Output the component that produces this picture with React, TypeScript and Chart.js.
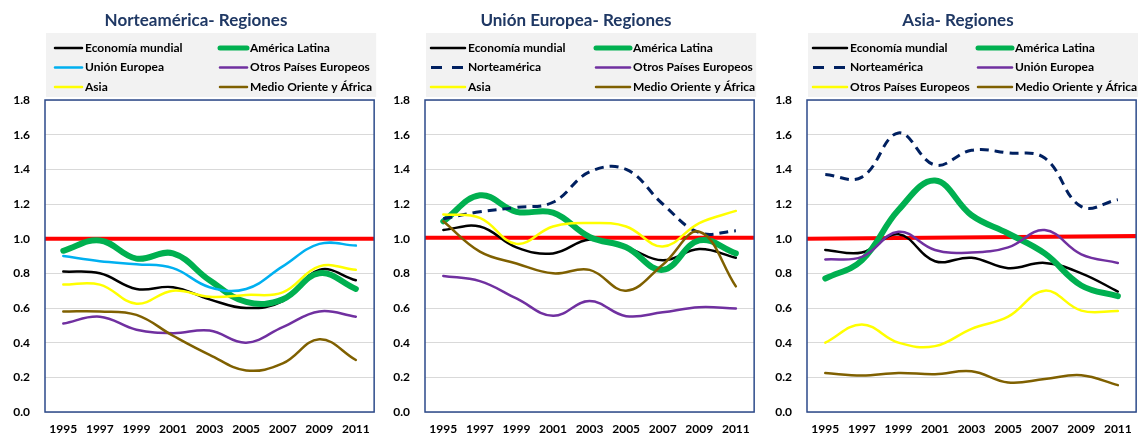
import React, { useEffect, useRef } from 'react';
import { Chart, registerables } from 'chart.js';

Chart.register(...registerables);

// ---------- Data ----------
const YEARS = ['1995', '1997', '1999', '2001', '2003', '2005', '2007', '2009', '2011'];
const Y_MIN = 0;
const Y_MAX = 1.8;
const Y_STEP = 0.2;

// Panel 1: Norteamérica - Regiones
const naEconomiaMundial = [0.81, 0.80, 0.71, 0.72, 0.65, 0.60, 0.64, 0.82, 0.76];
const naAmericaLatina = [0.93, 0.99, 0.885, 0.915, 0.76, 0.635, 0.65, 0.80, 0.71];
const naUnionEuropea = [0.90, 0.87, 0.853, 0.83, 0.72, 0.71, 0.84, 0.97, 0.96];
const naOtrosEuropeos = [0.51, 0.55, 0.475, 0.455, 0.47, 0.40, 0.49, 0.58, 0.55];
const naAsia = [0.735, 0.735, 0.625, 0.70, 0.665, 0.675, 0.69, 0.84, 0.82];
const naMedioOriente = [0.58, 0.58, 0.56, 0.44, 0.33, 0.24, 0.28, 0.42, 0.30];
const naReference = [1.0, 1.0];

// Panel 2: Unión Europea - Regiones
const ueEconomiaMundial = [1.05, 1.07, 0.95, 0.915, 0.995, 0.95, 0.875, 0.94, 0.89];
const ueAmericaLatina = [1.10, 1.25, 1.155, 1.15, 1.01, 0.95, 0.82, 0.99, 0.915];
const ueNorteamerica = [1.115, 1.155, 1.18, 1.21, 1.385, 1.40, 1.20, 1.035, 1.045];
const ueOtrosEuropeos = [0.785, 0.755, 0.655, 0.555, 0.64, 0.553, 0.575, 0.605, 0.597];
const ueAsia = [1.14, 1.12, 0.97, 1.07, 1.09, 1.07, 0.955, 1.09, 1.16];
const ueMedioOriente = [1.10, 0.925, 0.857, 0.80, 0.82, 0.70, 0.85, 1.04, 0.725];
const ueReference = [1.005, 1.005];

// Panel 3: Asia - Regiones
const asEconomiaMundial = [0.935, 0.92, 1.025, 0.87, 0.89, 0.83, 0.86, 0.80, 0.695];
const asAmericaLatina = [0.77, 0.875, 1.165, 1.335, 1.135, 1.03, 0.915, 0.73, 0.668];
const asNorteamerica = [1.37, 1.355, 1.61, 1.425, 1.51, 1.495, 1.465, 1.185, 1.225];
const asUnionEuropea = [0.88, 0.895, 1.04, 0.935, 0.92, 0.95, 1.05, 0.91, 0.86];
const asOtrosEuropeos = [0.40, 0.505, 0.40, 0.38, 0.48, 0.55, 0.70, 0.585, 0.583];
const asMedioOriente = [0.225, 0.21, 0.225, 0.218, 0.235, 0.17, 0.19, 0.212, 0.155];
const asReference = [1.0, 1.015];

// ---------- Styles ----------
const FONT = 'Lato';
const STYLE = {
  black: { color: '#000000', width: 2.5 },
  green: { color: '#00b050', width: 6 },
  cyan: { color: '#00b0f0', width: 2.5 },
  navyDash: { color: '#002060', width: 3, dash: [9, 6], legendDash: [11, 10] },
  purple: { color: '#7030a0', width: 2.5 },
  yellow: { color: '#ffff00', width: 2.5 },
  brown: { color: '#7f6000', width: 2.5 },
};

type Series = { name: string; data: number[]; style: any };
type PanelCfg = {
  title: string;
  series: Series[];
  reference: number[];
  legendCols: number[];
  sampleLen: number;
};

const PANELS: PanelCfg[] = [
  {
    title: 'Norteamérica- Regiones',
    series: [
      { name: 'Economía mundial', data: naEconomiaMundial, style: STYLE.black },
      { name: 'América Latina', data: naAmericaLatina, style: STYLE.green },
      { name: 'Unión Europea', data: naUnionEuropea, style: STYLE.cyan },
      { name: 'Otros Países Europeos', data: naOtrosEuropeos, style: STYLE.purple },
      { name: 'Asia', data: naAsia, style: STYLE.yellow },
      { name: 'Medio Oriente y África', data: naMedioOriente, style: STYLE.brown },
    ],
    reference: naReference,
    legendCols: [10, 175],
    sampleLen: 27,
  },
  {
    title: 'Unión Europea- Regiones',
    series: [
      { name: 'Economía mundial', data: ueEconomiaMundial, style: STYLE.black },
      { name: 'América Latina', data: ueAmericaLatina, style: STYLE.green },
      { name: 'Norteamérica', data: ueNorteamerica, style: STYLE.navyDash },
      { name: 'Otros Países Europeos', data: ueOtrosEuropeos, style: STYLE.purple },
      { name: 'Asia', data: ueAsia, style: STYLE.yellow },
      { name: 'Medio Oriente y África', data: ueMedioOriente, style: STYLE.brown },
    ],
    reference: ueReference,
    legendCols: [6, 171],
    sampleLen: 34,
  },
  {
    title: 'Asia- Regiones',
    series: [
      { name: 'Economía mundial', data: asEconomiaMundial, style: STYLE.black },
      { name: 'América Latina', data: asAmericaLatina, style: STYLE.green },
      { name: 'Norteamérica', data: asNorteamerica, style: STYLE.navyDash },
      { name: 'Unión Europea', data: asUnionEuropea, style: STYLE.purple },
      { name: 'Otros Países Europeos', data: asOtrosEuropeos, style: STYLE.yellow },
      { name: 'Medio Oriente y África', data: asMedioOriente, style: STYLE.brown },
    ],
    reference: asReference,
    legendCols: [6, 171],
    sampleLen: 34,
  },
];

const PANEL_LEFTS = [0, 380, 762];
const CANVAS_W = 380;
const CANVAS_H = 450;

function makeDecor(cfg: PanelCfg) {
  return {
    id: 'panelDecor',
    beforeDatasetsDraw(chart: any) {
      const { ctx, chartArea: a, scales } = chart;
      const y = scales.y;
      ctx.save();
      ctx.strokeStyle = '#ff0000';
      ctx.lineWidth = 4;
      ctx.beginPath();
      ctx.moveTo(a.left, y.getPixelForValue(cfg.reference[0]));
      ctx.lineTo(a.right, y.getPixelForValue(cfg.reference[1]));
      ctx.stroke();
      ctx.restore();
    },
    afterDatasetsDraw(chart: any) {
      const { ctx, chartArea: a } = chart;
      ctx.save();
      ctx.strokeStyle = '#2c4a8a';
      ctx.lineWidth = 1.5;
      ctx.strokeRect(a.left, a.top, a.right - a.left, a.bottom - a.top);
      ctx.restore();
    },
    afterDraw(chart: any) {
      const { ctx, chartArea: a } = chart;
      ctx.save();
      // title
      ctx.font = `bold 17px ${FONT}`;
      ctx.fillStyle = '#1f3864';
      ctx.textAlign = 'center';
      ctx.textBaseline = 'middle';
      ctx.fillText(cfg.title, 196, 21);
      // legend box
      ctx.fillStyle = '#f2f2f2';
      ctx.fillRect(a.left + 1, 33, a.right - a.left + 1, 64);
      ctx.font = `bold 12px ${FONT}`;
      ctx.textAlign = 'left';
      ctx.textBaseline = 'middle';
      cfg.series.forEach((s, i) => {
        const col = i % 2;
        const row = Math.floor(i / 2);
        const yy = 48 + row * 19.5;
        const x0 = a.left + cfg.legendCols[col];
        ctx.save();
        ctx.strokeStyle = s.style.color;
        ctx.lineWidth = s.style.width === 6 ? 5 : s.style.width;
        ctx.lineCap = s.style.dash ? 'butt' : 'round';
        ctx.setLineDash(s.style.legendDash || []);
        ctx.beginPath();
        ctx.moveTo(x0, yy);
        ctx.lineTo(x0 + cfg.sampleLen, yy);
        ctx.stroke();
        ctx.restore();
        ctx.fillStyle = '#000000';
        ctx.fillText(s.name, x0 + cfg.sampleLen + 3, yy);
      });
      ctx.restore();
    },
  };
}

function Panel({ cfg, left }: { cfg: PanelCfg; left: number }) {
  const ref = useRef<HTMLCanvasElement>(null);
  useEffect(() => {
    const n = cfg.series.length;
    const chart = new Chart(ref.current as HTMLCanvasElement, {
      type: 'line',
      data: {
        labels: YEARS,
        datasets: cfg.series.map((s, i) => ({
          label: s.name,
          data: s.data,
          borderColor: s.style.color,
          backgroundColor: s.style.color,
          borderWidth: s.style.width,
          borderDash: s.style.dash || [],
          borderCapStyle: s.style.dash ? 'butt' : 'round',
          borderJoinStyle: 'round',
          pointRadius: 0,
          tension: 0.4,
          fill: false,
          order: n - i,
        })),
      },
      options: {
        animation: false,
        responsive: false,
        devicePixelRatio: 1,
        layout: { padding: { top: 100, right: 4, left: 0, bottom: 0 } },
        plugins: {
          legend: { display: false },
          tooltip: { enabled: false },
          title: { display: false },
        },
        scales: {
          x: {
            type: 'category',
            offset: true,
            grid: { display: false, drawTicks: false },
            border: { display: false },
            ticks: {
              font: { family: FONT, size: 12, weight: 'bold' },
              color: '#000000',
              padding: 10,
              maxRotation: 0,
              autoSkip: false,
            },
            afterFit(s: any) {
              s.height = 38;
            },
          },
          y: {
            min: Y_MIN,
            max: Y_MAX,
            ticks: {
              stepSize: Y_STEP,
              callback: (v: any) => Number(v).toFixed(1),
              font: { family: FONT, size: 12, weight: 'bold' },
              color: '#000000',
              padding: 15,
            },
            grid: { color: '#d9d9d9', drawTicks: false, lineWidth: 1 },
            border: { display: false },
            afterFit(s: any) {
              s.width = 45;
            },
          },
        },
      } as any,
      plugins: [makeDecor(cfg)],
    });
    return () => chart.destroy();
  }, [cfg]);
  return (
    <div style={{ position: 'absolute', left, top: 0, width: CANVAS_W, height: CANVAS_H }}>
      <canvas
        ref={ref}
        width={CANVAS_W}
        height={CANVAS_H}
        style={{ width: CANVAS_W, height: CANVAS_H, display: 'block' }}
      />
    </div>
  );
}

export default function App() {
  return (
    <div
      style={{
        position: 'absolute',
        left: 0,
        top: 0,
        width: 1138,
        height: 434,
        overflow: 'hidden',
        background: '#ffffff',
      }}
    >
      {PANELS.map((p, i) => (
        <Panel key={i} cfg={p} left={PANEL_LEFTS[i]} />
      ))}
    </div>
  );
}
